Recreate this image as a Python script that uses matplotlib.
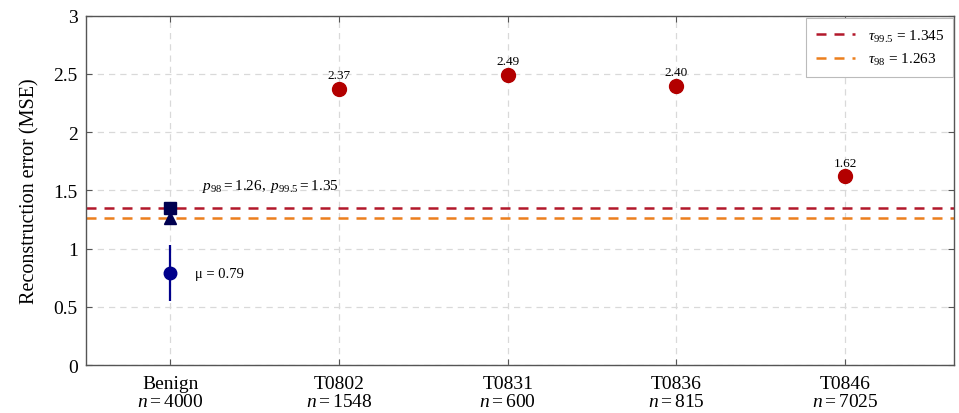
import matplotlib
matplotlib.use("Agg")
import matplotlib.pyplot as plt
import numpy as np

plt.rcParams['font.family'] = ['Liberation Serif', 'DejaVu Serif']
plt.rcParams['mathtext.fontset'] = 'custom'
plt.rcParams['mathtext.rm'] = 'Liberation Serif'
plt.rcParams['mathtext.it'] = 'Liberation Serif:italic'
plt.rcParams['mathtext.bf'] = 'Liberation Serif:bold'

categories = ["Benign", "T0802", "T0831", "T0836", "T0846"]
counts = [4000, 1548, 600, 815, 7025]
attack_values = [2.37, 2.49, 2.40, 1.62]
benign_mean = 0.79
benign_std = 0.24
benign_p98 = 1.26
benign_p995 = 1.35
tau_995 = 1.345
tau_98 = 1.263
yticks = [0, 0.5, 1, 1.5, 2, 2.5, 3]
ytick_labels = ["0", "0.5", "1", "1.5", "2", "2.5", "3"]

fig = plt.figure(figsize=(9.59, 4.14), dpi=100)
ax = fig.add_axes([0.0897, 0.1159, 0.9051, 0.8438])

x = np.arange(len(categories))
red = "#b30000"
navy = "#00008b"
darknavy = "#000050"

ax.axhline(tau_995, color="#b2182b", lw=1.8, ls=(0, (4, 3.2)), label=r"$\tau_{99.5}$ = 1.345", zorder=2)
ax.axhline(tau_98, color="#ec7f1d", lw=1.8, ls=(0, (4, 3.2)), label=r"$\tau_{98}$ = 1.263", zorder=2)

ax.errorbar([x[0]], [benign_mean], yerr=[benign_std], fmt='o', color=navy, ms=9,
            elinewidth=1.6, capsize=0, zorder=4)
ax.plot([x[0]], [benign_p98], marker='^', color=darknavy, ms=9, ls='none', zorder=4)
ax.plot([x[0]], [benign_p995], marker='s', color=darknavy, ms=9, ls='none', zorder=5)

ax.plot(x[1:], attack_values, 'o', color=red, ms=10, ls='none', zorder=4)
for xi, v in zip(x[1:], attack_values):
    ax.annotate(f"{v:.2f}", (xi, v), xytext=(0, 5.5), textcoords='offset points',
                ha='center', va='bottom', fontsize=9.5)

ax.annotate("μ = 0.79", (x[0], benign_mean), xytext=(18, 0), textcoords='offset points',
            ha='left', va='center', fontsize=10.5)
ax.annotate(r"$p_{98} = 1.26,\ p_{99.5} = 1.35$", (x[0], benign_p995), xytext=(23, 10),
            textcoords='offset points', ha='left', va='bottom', fontsize=11)

ax.set_xlim(-0.5, 4.645)
ax.set_ylim(0, 3)
ax.set_xticks(x)
ax.set_xticklabels([f"{c}\n$n = {n}$" for c, n in zip(categories, counts)], fontsize=14, linespacing=1.12)
ax.set_yticks(yticks)
ax.set_yticklabels(ytick_labels, fontsize=14)
ax.set_ylabel("Reconstruction error (MSE)", fontsize=14.5, labelpad=10)

ax.grid(True, color="#d9d9d9", ls=(0, (5, 4)), lw=0.9, zorder=0)
ax.set_axisbelow(True)
ax.tick_params(direction='in', length=4, color="#555555", right=True, top=True)
ax.tick_params(axis='x', pad=7)
ax.tick_params(axis='y', pad=6)
for s in ax.spines.values():
    s.set_color("#555555")
    s.set_linewidth(1.0)

leg = ax.legend(loc='upper right', fontsize=11, frameon=True, fancybox=False,
                edgecolor="#bbbbbb", framealpha=1, handlelength=2.6, borderpad=0.6,
                bbox_to_anchor=(0.999, 0.992), borderaxespad=0.0)
leg.get_frame().set_linewidth(0.8)

fig.savefig("out.png", dpi=100)
